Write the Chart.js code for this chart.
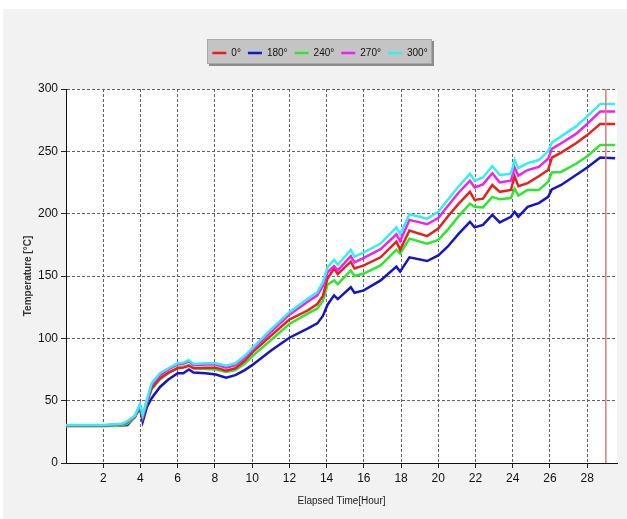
<!DOCTYPE html>
<html>
<head>
<meta charset="utf-8">
<script src="https://cdn.jsdelivr.net/npm/chart.js@4/dist/chart.umd.min.js"></script>
<style>
  html, body { margin: 0; padding: 0; background: #ffffff; }
  canvas { display: block; }
</style>
</head>
<body>
<canvas id="chart" width="627" height="519"></canvas>
<script>
// Elapsed time of each sample, in hours
const hours = [0, 1, 2, 3, 3.3, 3.7, 3.97, 4.12, 4.35, 4.6,
  5.05, 5.5, 6.0, 6.3, 6.6, 6.85, 7.5, 8.05, 8.6, 9.1,
  9.6, 10, 11, 12, 13, 13.5, 13.8, 14.05, 14.4, 14.6,
  15.3, 15.5, 16, 16.9, 17.75, 17.95, 18.45, 19.4, 20, 20.5,
  21.1, 21.7, 21.95, 22.4, 22.9, 23.3, 23.9, 24.1, 24.3, 24.8,
  25.4, 25.9, 26.1, 26.6, 27.4, 28.0, 28.7, 29.5];

// Temperatures [°C] measured at each angular position
const temp0 = [30, 30, 30, 31, 33, 37, 46, 37, 49, 60,
  68, 72.5, 76, 76.5, 78, 76, 76.5, 76.5, 74, 76,
  82, 88.5, 102, 115, 122.5, 127.5, 134, 148, 156, 151.5,
  161.5, 156, 158.5, 165, 177.5, 171, 186.5, 182, 188, 197.5,
  208, 217.5, 211, 212, 223, 217.5, 219, 230, 222, 224.5,
  230, 235, 245, 249, 256.5, 263, 272, 272];
const temp180 = [30, 30, 30, 30, 30.5, 37, 44, 33, 45, 52,
  61, 67, 72, 72, 75, 72.5, 72, 71, 68.5, 70.5,
  74.5, 78.5, 90, 100.5, 108, 112, 118, 127, 134.5, 131.5,
  141, 136.5, 138.5, 146.5, 157.5, 153.5, 165, 162, 166.5, 173.5,
  184, 193.5, 189, 191, 199, 193, 197.5, 201.5, 197.5, 205.5,
  208.5, 213.5, 219.5, 223, 231, 237, 245, 244.5];
const temp240 = [29.5, 29.5, 29.5, 30, 31.5, 36.5, 45.5, 36.5, 48.5, 59,
  67, 72, 76.5, 77, 78.5, 76, 75.5, 75, 73, 74.5,
  79.5, 85.5, 98.5, 111.5, 120, 124, 130, 143, 146.5, 143.5,
  154.5, 150, 152, 158.5, 171, 168, 180, 176, 179, 187,
  198, 208, 205.5, 205, 213.5, 211.5, 212.5, 220, 214.5, 219,
  219, 225.5, 233, 233.5, 240, 246, 255, 255];
const temp270 = [30, 30, 30, 31, 33, 37.5, 46.5, 38, 50, 62.5,
  70.5, 75, 79, 79.5, 81.5, 78.5, 79, 79, 76.5, 78.5,
  84.5, 90.5, 105, 119, 129.5, 134.5, 142, 153, 158, 154.5,
  166, 161, 164.5, 171.5, 183.5, 178, 195, 191.5, 196.5, 206,
  217, 226.5, 221, 223.5, 232.5, 225, 226.5, 237, 230.5, 235,
  237.5, 244, 252, 256.5, 264, 272, 282, 282];
const temp300 = [30.5, 30.5, 30.5, 31.5, 33.5, 38, 47, 38.5, 51, 64,
  72, 76, 80, 80.5, 82.5, 79.5, 80, 80, 78, 80,
  86, 92, 107, 121, 132, 137, 145, 157, 163, 159,
  171, 165.5, 169, 176, 189, 183.5, 199.5, 196, 201.5, 211,
  222, 232, 226.5, 229, 238, 231, 232, 243, 236.5, 240.5,
  243, 250, 257, 262, 270, 278, 288, 288];

const seriesLabels = ['0°', '180°', '240°', '270°', '300°'];
const seriesValues = [temp0, temp180, temp240, temp270, temp300];
const seriesColors = ['#e8201c', '#1414c8', '#2ee62e', '#f020f0', '#30f0f0'];
const drawOrder = [2, 4, 3, 1, 0];   // smaller = painted later (on top)

// Axis ranges and tick positions
const hourMin = 0, hourMax = 29.6;
const hourTicks = [2, 4, 6, 8, 10, 12, 14, 16, 18, 20, 22, 24, 26, 28];
const tempMin = 0, tempMax = 300, tempStep = 50;
// Hour at which the vertical marker line is drawn
const markerHour = 29.0;

const textFamily = "'Liberation Sans', Arial, sans-serif";

const datasets = seriesLabels.map((label, i) => ({
  label,
  data: hours.map((h, k) => ({ x: h, y: seriesValues[i][k] })),
  borderColor: seriesColors[i],
  backgroundColor: seriesColors[i],
  borderWidth: 2.5,
  pointRadius: 0,
  tension: 0,
  order: drawOrder[i]
}));

// Window background, white plot area, the legend's grey box and the marker line
const framePlugin = {
  id: 'frame',
  afterInit(chart) {
    const legend = chart.legend;
    const fit = legend.fit.bind(legend);
    legend.fit = function () { fit(); this.height = 48; };
    const draw = legend.draw.bind(legend);
    legend.draw = function () {
      const c = chart.ctx;
      c.save();
      c.translate(chart.$legendShift || 0, 0);
      draw();
      c.restore();
    };
  },
  beforeDraw(chart) {
    const c = chart.ctx;
    const { chartArea: a } = chart;
    c.save();
    c.fillStyle = '#ffffff';
    c.fillRect(0, 0, chart.width, chart.height);
    c.fillStyle = '#f2f2f2';
    c.fillRect(3, 9, chart.width - 3, chart.height - 9);
    c.fillStyle = '#ffffff';
    c.fillRect(a.left, a.top, a.right - a.left, a.bottom - a.top);

    const boxes = chart.legend.legendHitBoxes || [];
    if (boxes.length) {
      let l = Infinity, r = -Infinity;
      boxes.forEach(b => { l = Math.min(l, b.left); r = Math.max(r, b.left + b.width); });
      chart.$legendShift = 320 - (l + r) / 2;
      const x0 = 207, x1 = 432;
      const y0 = 39, y1 = 64;
      c.fillStyle = '#8c8c8c';
      c.fillRect(x0 + 2, y0 + 2, x1 - x0, y1 - y0);
      c.fillStyle = '#c4c4c4';
      c.fillRect(x0, y0, x1 - x0, y1 - y0);
      c.strokeStyle = '#a8a8a8';
      c.lineWidth = 1;
      c.strokeRect(x0 + 0.5, y0 + 0.5, x1 - x0 - 1, y1 - y0 - 1);
    }
    c.restore();
  },
  afterDatasetsDraw(chart) {
    const c = chart.ctx;
    const x = chart.scales.x.getPixelForValue(markerHour);
    c.save();
    c.strokeStyle = '#e07878';
    c.lineWidth = 1.5;
    c.beginPath();
    c.moveTo(x, chart.chartArea.top);
    c.lineTo(x, chart.chartArea.bottom);
    c.stroke();
    c.restore();
  }
};

new Chart(document.getElementById('chart'), {
  type: 'line',
  data: { datasets },
  plugins: [framePlugin],
  options: {
    responsive: false,
    animation: false,
    layout: { padding: { left: 0, right: 10, top: 41, bottom: 0 } },
    plugins: {
      tooltip: { enabled: false },
      legend: {
        position: 'top',
        labels: {
          usePointStyle: true,
          pointStyle: 'line',
          pointStyleWidth: 14,
          padding: 7,
          color: '#111',
          font: { family: textFamily, size: 10 },
          sort: (a, b) => a.datasetIndex - b.datasetIndex
        }
      }
    },
    scales: {
      x: {
        type: 'linear',
        min: hourMin,
        max: hourMax,
        afterBuildTicks(scale) {
          scale.ticks = hourTicks.map(v => ({ value: v }));
        },
        afterFit(scale) { scale.height = 56; },
        ticks: {
          color: '#111',
          padding: 3,
          maxRotation: 0,
          autoSkip: false,
          font: { family: textFamily, size: 12 }
        },
        grid: {
          color: '#606060',
          lineWidth: 1,
          tickLength: 5,
          tickColor: '#222',
          tickBorderDash: []
        },
        border: { color: '#111', width: 1, dash: [3, 2] },
        title: {
          display: true,
          text: 'Elapsed Time[Hour]',
          color: '#222',
          font: { family: textFamily, size: 10 },
          padding: { top: 0, bottom: 12 }
        }
      },
      y: {
        min: tempMin,
        max: tempMax,
        afterFit(scale) { scale.width = 66; },
        ticks: {
          stepSize: tempStep,
          color: '#111',
          padding: 3,
          font: { family: textFamily, size: 12 }
        },
        grid: {
          color: '#606060',
          lineWidth: 1,
          tickLength: 5,
          tickColor: '#222',
          tickBorderDash: []
        },
        border: { color: '#111', width: 1, dash: [3, 2] },
        title: {
          display: true,
          text: 'Temperature [°C]',
          color: '#333',
          font: { family: textFamily, size: 10, weight: 'bold' },
          padding: { top: 22, bottom: 0 }
        }
      }
    }
  }
});
</script>
</body>
</html>
